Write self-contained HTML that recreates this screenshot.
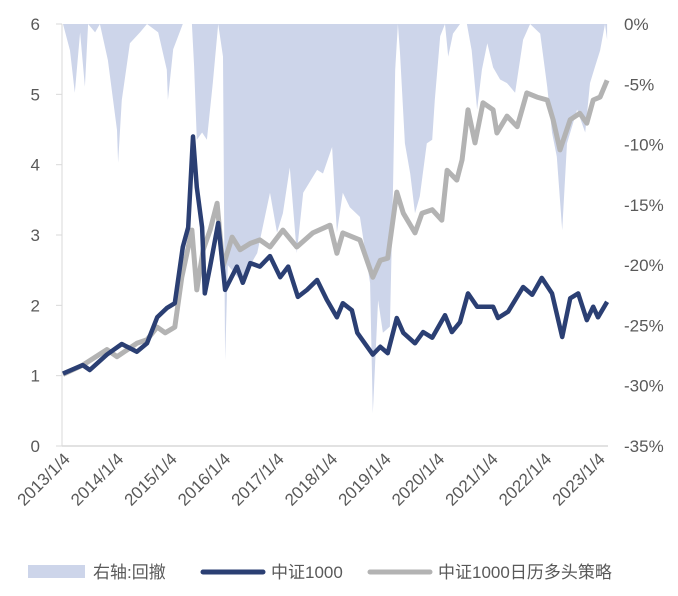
<!DOCTYPE html>
<html><head><meta charset="utf-8"><style>
html,body{margin:0;padding:0;background:#fff;}
svg text{font-family:"Liberation Sans","Noto Sans CJK SC",sans-serif;fill:#595959;}
</style></head><body>
<svg id="chart" width="678" height="591" viewBox="0 0 678 591" xmlns="http://www.w3.org/2000/svg">
<g id="dd-layer"></g>
<g id="axes"></g>
<g id="lines"></g>
<g id="legend">
  <rect x="28" y="565" width="57" height="13" fill="#cdd5ea"/>
  <text x="93" y="578" font-size="17">右轴:回撤</text>
  <line x1="203" y1="572" x2="263" y2="572" stroke="#2b3f73" stroke-width="5" stroke-linecap="round"/>
  <text x="271" y="578" font-size="17">中证1000</text>
  <line x1="370" y1="572" x2="430" y2="572" stroke="#b3b3b3" stroke-width="5" stroke-linecap="round"/>
  <text x="438" y="578" font-size="17">中证1000日历多头策略</text>
</g>
</svg>
<script>
const xTickLabels = ["2013/1/4","2014/1/4","2015/1/4","2016/1/4","2017/1/4","2018/1/4","2019/1/4","2020/1/4","2021/1/4","2022/1/4","2023/1/4"];
const leftTickLabels = ["0","1","2","3","4","5","6"];
const rightTickLabels = ["0%","-5%","-10%","-15%","-20%","-25%","-30%","-35%"];
const csiDates = [2013.00,2013.37,2013.50,2013.82,2014.10,2014.38,2014.57,2014.76,2014.94,2015.09,2015.24,2015.34,2015.43,2015.50,2015.60,2015.65,2015.75,2015.90,2016.03,2016.25,2016.36,2016.50,2016.68,2016.87,2017.06,2017.21,2017.39,2017.56,2017.75,2017.93,2018.12,2018.23,2018.40,2018.50,2018.79,2018.93,2019.07,2019.24,2019.36,2019.58,2019.73,2019.90,2020.14,2020.27,2020.42,2020.57,2020.74,2021.04,2021.13,2021.32,2021.60,2021.77,2021.95,2022.14,2022.33,2022.48,2022.63,2022.79,2022.91,2023.00,2023.17];
const csiValues = [1.03,1.15,1.08,1.30,1.45,1.34,1.46,1.83,1.96,2.03,2.83,3.11,4.40,3.68,3.11,2.17,2.55,3.17,2.22,2.55,2.32,2.60,2.55,2.70,2.40,2.55,2.12,2.22,2.36,2.08,1.83,2.03,1.93,1.61,1.30,1.41,1.32,1.82,1.61,1.46,1.62,1.54,1.86,1.62,1.76,2.17,1.98,1.98,1.82,1.91,2.26,2.15,2.39,2.17,1.55,2.10,2.17,1.79,1.98,1.83,2.05];
const stratDates = [2013.00,2013.37,2013.82,2014.01,2014.38,2014.57,2014.76,2014.91,2015.09,2015.22,2015.41,2015.50,2015.62,2015.75,2015.88,2015.99,2016.16,2016.31,2016.50,2016.68,2016.87,2017.11,2017.37,2017.67,2017.99,2018.12,2018.23,2018.55,2018.79,2018.93,2019.07,2019.24,2019.36,2019.58,2019.71,2019.90,2020.08,2020.18,2020.36,2020.46,2020.57,2020.70,2020.85,2021.04,2021.11,2021.30,2021.49,2021.67,2021.86,2022.05,2022.16,2022.29,2022.48,2022.66,2022.79,2022.91,2023.04,2023.17];
const stratValues = [1.02,1.15,1.37,1.27,1.46,1.51,1.69,1.61,1.69,2.40,3.07,2.22,2.79,3.07,3.45,2.55,2.97,2.79,2.88,2.93,2.83,3.07,2.83,3.03,3.14,2.74,3.03,2.93,2.40,2.64,2.67,3.61,3.31,3.03,3.31,3.36,3.21,3.92,3.78,4.07,4.78,4.31,4.88,4.78,4.45,4.69,4.54,5.02,4.96,4.92,4.64,4.21,4.64,4.73,4.59,4.92,4.96,5.20];
const ddDates = [2013.00,2013.13,2013.22,2013.32,2013.41,2013.47,2013.60,2013.69,2013.84,2014.01,2014.03,2014.10,2014.25,2014.44,2014.57,2014.78,2014.94,2014.96,2015.06,2015.24,2015.41,2015.45,2015.50,2015.60,2015.69,2015.80,2015.90,2015.99,2016.03,2016.08,2016.36,2016.50,2016.63,2016.87,2017.00,2017.11,2017.24,2017.37,2017.49,2017.75,2017.86,2018.03,2018.12,2018.23,2018.36,2018.55,2018.74,2018.79,2018.89,2018.98,2019.11,2019.17,2019.21,2019.26,2019.30,2019.39,2019.49,2019.58,2019.67,2019.80,2019.90,2019.95,2020.05,2020.14,2020.20,2020.29,2020.42,2020.55,2020.64,2020.74,2020.83,2020.93,2021.04,2021.17,2021.30,2021.45,2021.60,2021.73,2021.92,2022.05,2022.14,2022.23,2022.33,2022.42,2022.61,2022.76,2022.85,2022.94,2023.04,2023.13,2023.17];
const ddValues = [0,-2.2,-5.7,-0.7,-5.2,0,-0.7,0,-3,-8.8,-11.5,-6.3,-1.6,-0.7,0,-0.7,-3.8,-6.3,-2.1,0,0,-3.5,-9.6,-9,-9.6,-4.9,0,-2.7,-27.9,-20,-21.5,-20,-19,-14,-17.3,-15.7,-11.9,-19,-14,-12.1,-12.4,-10.2,-17.3,-14,-15.2,-16,-21.5,-32.3,-22.9,-25.6,-25.1,-13.2,-3.8,0,-2.4,-9.9,-12.4,-15.7,-14.3,-9.9,-9.6,-6.3,-1,0,-2.7,-0.8,0,0,-2.2,-7.1,-3.8,-1.6,-3.6,-4.6,-4.9,-5.7,-1.3,0,-0.8,-5.2,-9,-11,-17.1,-9.9,-7.1,-9,-4.9,-3.6,-2.2,0,-1.3];

const NS = "http://www.w3.org/2000/svg";
const X0 = 63, X1 = 598, YT = 24, YB = 446;
function xs(t){ return X0 + (t - 2013) * (X1 - X0) / 10; }
function yl(v){ return YB - v * (YB - YT) / 6; }
function yr(p){ return YT - p * (YB - YT) / 35; }
function mk(tag, attrs, parent){ const e = document.createElementNS(NS, tag); for (const k in attrs) e.setAttribute(k, attrs[k]); parent.appendChild(e); return e; }

const ddL = document.getElementById('dd-layer');
let d = "M" + xs(ddDates[0]) + "," + YT;
for (let i = 0; i < ddDates.length; i++) d += "L" + xs(ddDates[i]).toFixed(1) + "," + yr(ddValues[i]).toFixed(1);
d += "L" + xs(ddDates[ddDates.length-1]).toFixed(1) + "," + YT + "Z";
const area = mk('path', {d: d, fill: '#cdd5ea', stroke: 'none'}, ddL);



const ax = document.getElementById('axes');
const la = mk('line', {x1: 62, y1: YT, x2: 62, y2: YB, stroke: '#d9d9d9', 'stroke-width': 1}, ax);


const ba = mk('line', {x1: 62, y1: YB, x2: 608, y2: YB, stroke: '#d9d9d9', 'stroke-width': 1.5}, ax);


leftTickLabels.forEach((lab) => {
  const y = yl(+lab);
  const tk = mk('line', {x1: 56, y1: y, x2: 62, y2: y, stroke: '#d9d9d9'}, ax);
  
  
  const t = mk('text', {x: 40, y: y + 6, 'font-size': 17, 'text-anchor': 'end'}, ax);
  t.textContent = lab;
  
  
});
rightTickLabels.forEach((lab) => {
  const y = yr(parseFloat(lab));
  const t = mk('text', {x: 624, y: y + 6, 'font-size': 17}, ax);
  t.textContent = lab;
  
  
});
xTickLabels.forEach((lab) => {
  const x = xs(parseInt(lab));
  const t = mk('text', {x: 0, y: 0, 'font-size': 17, 'text-anchor': 'end', transform: 'translate(' + (x + 8) + ',' + 460 + ') rotate(-45)'}, ax);
  t.textContent = lab;
  
  
});

const ln = document.getElementById('lines');
function linePath(ds, vs){ return ds.map((t, i) => (i ? "L" : "M") + xs(t).toFixed(1) + "," + yl(vs[i]).toFixed(1)).join(""); }
const sl = mk('path', {d: linePath(stratDates, stratValues), fill: 'none', stroke: '#b3b3b3', 'stroke-width': 5, 'stroke-linejoin': 'round'}, ln);


const cl = mk('path', {d: linePath(csiDates, csiValues), fill: 'none', stroke: '#2b3f73', 'stroke-width': 4.5, 'stroke-linejoin': 'round'}, ln);


</script>
</body></html>
